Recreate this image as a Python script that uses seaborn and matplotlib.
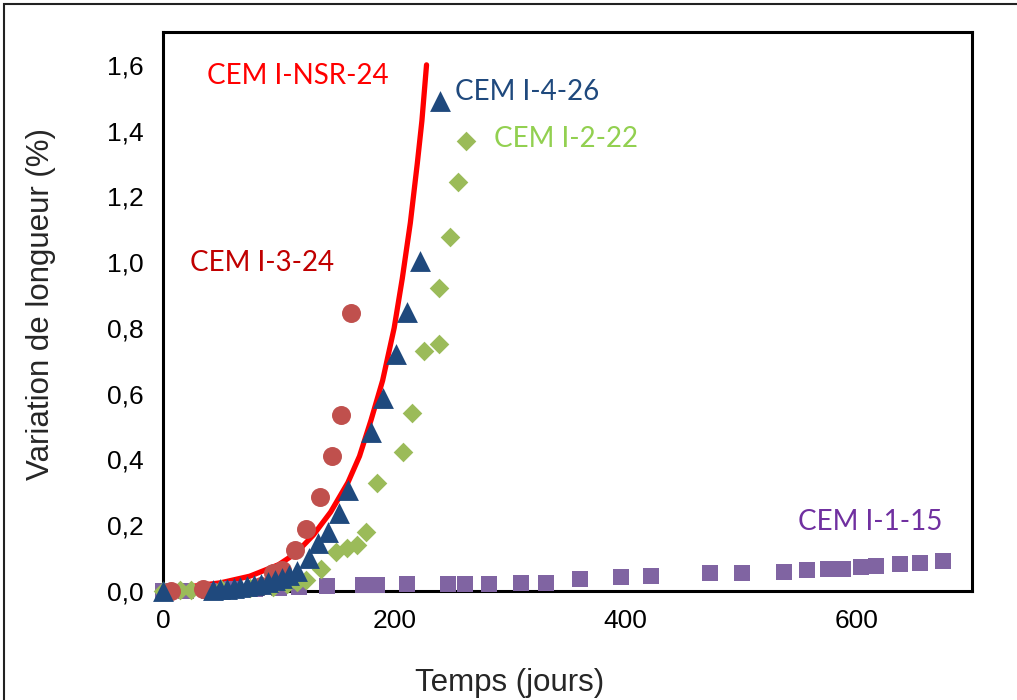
import matplotlib
matplotlib.use("Agg")
import matplotlib.pyplot as plt
from matplotlib.patches import Rectangle
import seaborn as sns

#data (jours, variation %)
circ_x = [7, 35, 85, 95, 103, 114, 124, 136, 146, 154, 163]
circ_y = [0.0, 0.005, 0.015, 0.055, 0.065, 0.125, 0.19, 0.285, 0.41, 0.535, 0.845]

tri_x = [0, 43, 49, 55, 61, 67, 73, 79, 85, 91, 97, 103, 109, 116, 126,
         134, 143, 152, 160, 180, 190, 202, 211, 222, 240]
tri_y = [0.0, 0.003, 0.005, 0.007, 0.009, 0.012, 0.015, 0.018, 0.022, 0.027,
         0.033, 0.04, 0.048, 0.06, 0.1, 0.145, 0.18, 0.237, 0.307, 0.483,
         0.586, 0.72, 0.85, 1.005, 1.49]

dia_x = [0, 15, 24, 50, 75, 95, 107, 116, 124, 137, 150, 159, 168, 176, 185,
         208, 215, 226, 239, 239, 248, 255, 262]
dia_y = [0.0, 0.003, 0.003, 0.005, 0.008, 0.012, 0.02, 0.028, 0.035, 0.068,
         0.12, 0.13, 0.14, 0.178, 0.327, 0.423, 0.54, 0.73, 0.752, 0.92,
         1.077, 1.245, 1.37]

sq_x = [0, 20, 40, 60, 80, 100, 118, 142, 173, 185, 211, 247, 261, 282, 310,
        331, 361, 396, 422, 473, 501, 537, 557, 575, 588, 604, 617, 638, 655, 675]
sq_y = [0.0, 0.0, 0.0, 0.005, 0.005, 0.01, 0.012, 0.015, 0.018, 0.018, 0.02,
        0.022, 0.022, 0.022, 0.024, 0.024, 0.036, 0.042, 0.047, 0.054, 0.056,
        0.059, 0.064, 0.066, 0.066, 0.072, 0.076, 0.082, 0.086, 0.09]

nsr_x = [0, 25, 50, 75, 100, 115, 130, 145, 160, 170, 180, 190, 200, 207,
         214, 220, 224, 228]
nsr_y = [0.008, 0.014, 0.025, 0.045, 0.08, 0.115, 0.17, 0.24, 0.33, 0.41,
         0.52, 0.64, 0.8, 0.95, 1.12, 1.3, 1.43, 1.6]

y_ticks = [0.0, 0.2, 0.4, 0.6, 0.8, 1.0, 1.2, 1.4, 1.6]
y_ticklabels = ["0,0", "0,2", "0,4", "0,6", "0,8", "1,0", "1,2", "1,4", "1,6"]
x_ticks = [0, 200, 400, 600]

sns.set_style("white")
plt.rcParams["font.family"] = ["Liberation Sans", "DejaVu Sans"]

fig = plt.figure(figsize=(10.17, 7.0), dpi=100)
ax = fig.add_axes([0.1603, 0.1557, 0.7955, 0.7986])

sns.lineplot(x=nsr_x, y=nsr_y, ax=ax, color="#FF0000", linewidth=3.8,
             sort=False, zorder=2)
sns.scatterplot(x=sq_x, y=sq_y, ax=ax, marker="s", s=117, color="#8064A2",
                linewidth=0, zorder=3, clip_on=False)
sns.scatterplot(x=dia_x, y=dia_y, ax=ax, marker="D", s=100, color="#9BBB59",
                linewidth=0, zorder=4, clip_on=False)
sns.scatterplot(x=circ_x, y=circ_y, ax=ax, marker="o", s=187, color="#C0504D",
                linewidth=0, zorder=5, clip_on=False)
sns.scatterplot(x=tri_x, y=tri_y, ax=ax, marker="^", s=225, color="#1F497D",
                linewidth=0, zorder=6, clip_on=False)

ax.set_xlim(0, 700)
ax.set_ylim(0, 1.7)
ax.set_xticks(x_ticks)
ax.set_yticks(y_ticks)
ax.set_yticklabels(y_ticklabels)
ax.tick_params(direction="in", length=6, width=1.6, labelsize=19,
               colors="black")
ax.tick_params(axis="x", pad=13)
ax.tick_params(axis="y", pad=14)
for sp in ax.spines.values():
    sp.set_color("black")
    sp.set_linewidth(2.2)

ax.set_xlabel("Temps (jours)", fontsize=22.5)
ax.set_ylabel("Variation de longueur (%)", fontsize=22.5)
ax.xaxis.set_label_coords(0.429, -0.138)
ax.yaxis.set_label_coords(-0.132, 0.513)

lbl_font = ["Lato", "DejaVu Sans"]
ax.text(38, 1.565, "CEM I-NSR-24", color="#FF0000", fontsize=20,
        family=lbl_font, ha="left", va="center")
ax.text(253, 1.516, "CEM I-4-26", color="#1F497D", fontsize=20,
        family=lbl_font, ha="left", va="center")
ax.text(286, 1.376, "CEM I-2-22", color="#92D050", fontsize=20,
        family=lbl_font, ha="left", va="center")
ax.text(23, 0.996, "CEM I-3-24", color="#C00000", fontsize=20,
        family=lbl_font, ha="left", va="center")
ax.text(549, 0.21, "CEM I-1-15", color="#7030A0", fontsize=20,
        family=lbl_font, ha="left", va="center")

#outer chart frame, cut off at right and bottom in the reference
fig.add_artist(Rectangle((4 / 1017, -0.1), 1.2, 1.1 - 4 / 700,
                         transform=fig.transFigure, fill=False,
                         edgecolor="#222222", linewidth=1.5))

fig.savefig("out.png", dpi=100)
plt.close()
